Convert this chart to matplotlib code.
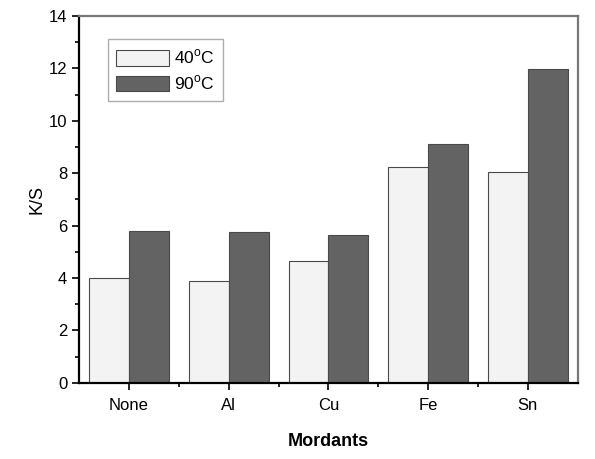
import matplotlib
matplotlib.use("Agg")
import matplotlib.pyplot as plt
import numpy as np

plt.rcParams["font.family"] = ["Liberation Sans", "DejaVu Sans"]

mordants = ["None", "Al", "Cu", "Fe", "Sn"]
ks_40 = [4.0, 3.9, 4.65, 8.24, 8.05]
ks_90 = [5.78, 5.75, 5.65, 9.12, 11.98]

LIGHT = "#f3f3f3"
DARK = "#636363"
EDGE = "#4a4a4a"

fig = plt.figure(figsize=(5.95, 4.59), dpi=100)
ax = fig.add_axes([0.133, 0.166, 0.838, 0.799])

x = np.arange(len(mordants))
w = 0.4
ax.bar(x - w / 2, ks_40, w, color=LIGHT, edgecolor=EDGE, linewidth=0.8, label="40$^\\mathregular{o}$C")
ax.bar(x + w / 2, ks_90, w, color=DARK, edgecolor=EDGE, linewidth=0.8, label="90$^\\mathregular{o}$C")

ax.set_xlim(-0.5, 4.5)
ax.set_ylim(0, 14)
ax.set_xticks(x)
ax.set_xticklabels(mordants)
ax.set_xticks(x[:-1] + 0.5, minor=True)
ax.set_yticks(np.arange(0, 15, 2))
ax.set_yticks(np.arange(1, 14, 2), minor=True)
ax.tick_params(axis="both", which="major", direction="out", length=5, width=1.2, labelsize=12, colors="black")
ax.tick_params(axis="both", which="minor", direction="out", length=3, width=1.2)
ax.tick_params(axis="x", pad=6)

for s in ["left", "bottom"]:
    ax.spines[s].set_linewidth(1.6)
for s in ["top", "right"]:
    ax.spines[s].set_linewidth(1.6)
    ax.spines[s].set_color("#777777")

ax.set_ylabel("K/S", fontsize=13, labelpad=2)
ax.set_xlabel("Mordants", fontsize=13, fontweight="bold", labelpad=14)

leg = ax.legend(loc="upper left", bbox_to_anchor=(0.04, 0.96), fontsize=12.5, frameon=True,
                fancybox=False, edgecolor="#999999", handlelength=3.0, handleheight=1.0,
                handletextpad=0.3, borderpad=0.5, labelspacing=0.4)
leg.get_frame().set_linewidth(1.0)

fig.savefig("out.png", dpi=100)
